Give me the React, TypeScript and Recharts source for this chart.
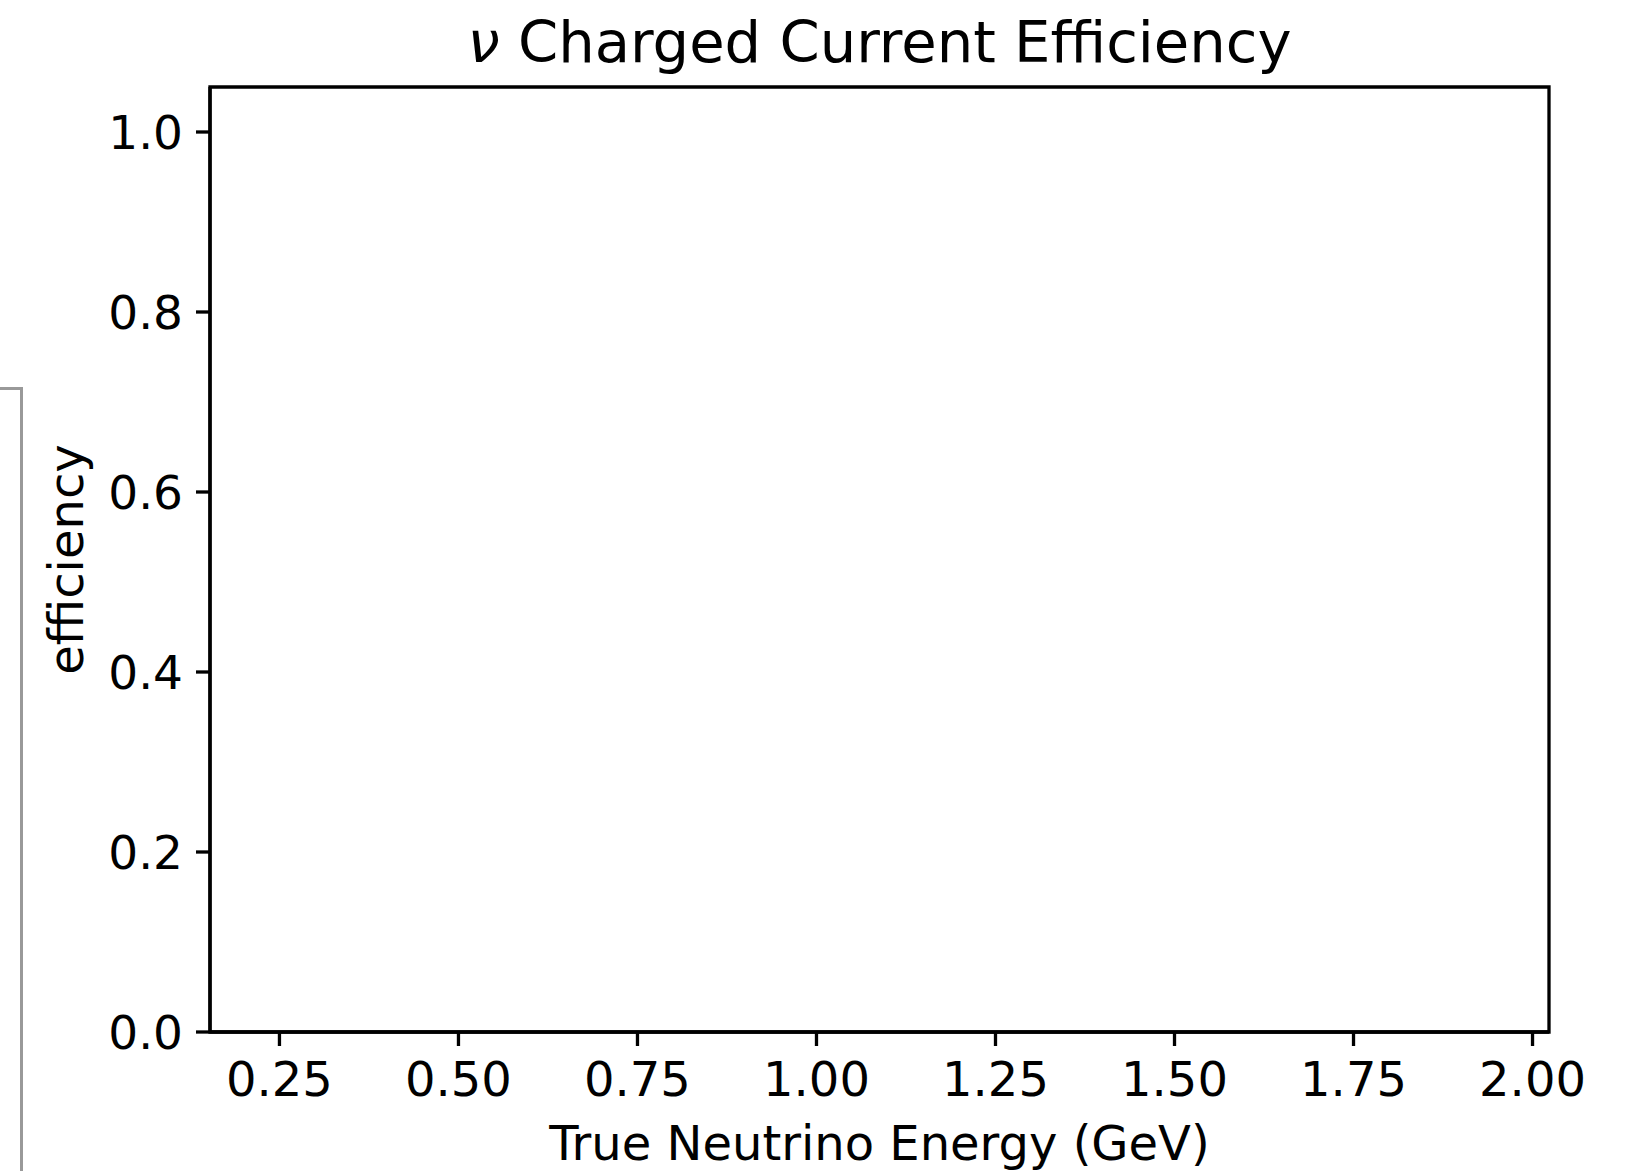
import { ComposedChart, Line, XAxis, YAxis, ReferenceArea } from "recharts";

// the reference figure is an empty efficiency plot: axes only, no points drawn
const energies: number[] = [];
const efficiency: number[] = [];
const xTicks = [0.25, 0.5, 0.75, 1.0, 1.25, 1.5, 1.75, 2.0];
const yTicks = [0, 0.2, 0.4, 0.6, 0.8, 1.0];
const xDomain = [0.153, 2.023];
const yDomain = [0, 1.05];

const title = "Charged Current Efficiency";
const xLabel = "True Neutrino Energy (GeV)";
const yLabel = "efficiency";

const font = "DejaVu Sans, sans-serif";
const lw = 3.3;

export default function App() {
  const data = energies.map((e, i) => ({ energy: e, eff: efficiency[i] }));
  return (
    <div style={{ position: "absolute", left: 0, top: 0, width: 1628, height: 1171, background: "#fff", fontFamily: font }}>
      {/* edge of an overlapping figure on the left */}
      <div style={{ position: "absolute", left: -3, top: 387, width: 20, height: 800, border: "3px solid #999" }} />
      <ComposedChart
        width={1628}
        height={1171}
        data={data}
        margin={{ top: 87, right: 79, bottom: 0, left: 0 }}
      >
        <XAxis
          type="number"
          dataKey="energy"
          domain={xDomain}
          ticks={xTicks}
          allowDataOverflow
          height={139}
          tickFormatter={(v: number) => v.toFixed(2)}
          axisLine={{ stroke: "#000", strokeWidth: lw }}
          tickLine={{ stroke: "#000", strokeWidth: lw }}
          tickSize={14}
          tickMargin={16}
          tick={{ fill: "#000", fontSize: 48, fontFamily: font }}
        />
        <YAxis
          type="number"
          domain={yDomain}
          ticks={yTicks}
          allowDataOverflow
          width={210}
          tickFormatter={(v: number) => v.toFixed(1)}
          axisLine={{ stroke: "#000", strokeWidth: lw }}
          tickLine={{ stroke: "#000", strokeWidth: lw }}
          tickSize={14}
          tickMargin={13}
          tick={{ fill: "#000", fontSize: 47, fontFamily: font }}
        />
        <ReferenceArea
          x1={xDomain[0]}
          x2={xDomain[1]}
          y1={yDomain[0]}
          y2={yDomain[1]}
          fill="none"
          stroke="#000"
          strokeWidth={lw}
          ifOverflow="visible"
        />
        <Line dataKey="eff" stroke="#1f77b4" dot={false} isAnimationActive={false} />
      </ComposedChart>
      <svg width={1628} height={1171} style={{ position: "absolute", left: 0, top: 0, pointerEvents: "none" }}>
        <text x={879.5} y={62} textAnchor="middle" fontSize={57.6} fontFamily={font} fill="#000">
          <tspan fontStyle="italic">ν</tspan> {title}
        </text>
        <text x={879.5} y={1160} textAnchor="middle" fontSize={48} fontFamily={font} fill="#000">
          {xLabel}
        </text>
        <text
          x={83}
          y={559.5}
          textAnchor="middle"
          fontSize={48}
          fontFamily={font}
          fill="#000"
          transform="rotate(-90 83 559.5)"
        >
          {yLabel}
        </text>
      </svg>
    </div>
  );
}
